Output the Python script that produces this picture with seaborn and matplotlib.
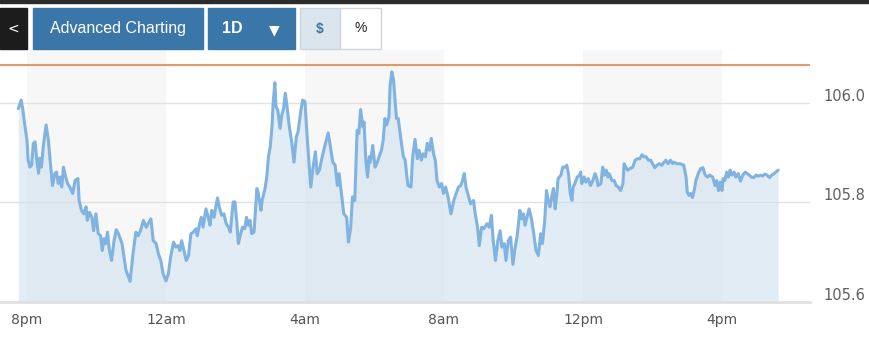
import numpy as np
import pandas as pd
import matplotlib
matplotlib.use("Agg")
import matplotlib.pyplot as plt
import matplotlib.transforms as mtransforms
from matplotlib.patches import Rectangle
import seaborn as sns

# minutes after 8pm
minutes = [
    -15, -10, -7, -5, -2, 0, 2, 5, 8, 11,
    14, 17, 20, 22, 25, 28, 33, 37, 41, 44,
    48, 51, 54, 57, 60, 63, 66, 70, 74, 79,
    83, 88, 90, 94, 98, 102, 104, 108, 112, 115,
    119, 123, 127, 130, 133, 136, 139, 142, 146, 150,
    154, 158, 164, 171, 178, 183, 188, 192, 196, 201,
    206, 209, 214, 218, 223, 227, 231, 235, 240, 244,
    248, 253, 257, 261, 264, 267, 271, 275, 279, 283,
    287, 292, 294, 298, 301, 304, 309, 313, 316, 319,
    323, 326, 329, 332, 336, 340, 344, 348, 351, 356,
    359, 362, 365, 369, 372, 376, 379, 382, 385, 388,
    392, 397, 399, 404, 406, 411, 414, 417, 420, 423,
    425, 428, 430, 433, 437, 440, 443, 446, 449, 453,
    457, 461, 465, 468, 473, 476, 480, 483, 487, 490,
    494, 498, 501, 505, 509, 513, 516, 520, 523, 528,
    532, 536, 539, 543, 547, 552, 555, 559, 562, 566,
    570, 573, 576, 580, 582, 585, 588, 591, 593, 597,
    601, 605, 608, 612, 615, 618, 621, 625, 627, 630,
    633, 635, 638, 641, 644, 647, 650, 653, 656, 658,
    663, 666, 670, 674, 677, 681, 684, 688, 691, 695,
    698, 702, 705, 708, 712, 716, 719, 723, 727, 732,
    737, 741, 745, 749, 752, 755, 758, 762, 766, 771,
    774, 778, 781, 785, 789, 794, 798, 802, 805, 809,
    813, 817, 820, 824, 827, 831, 835, 839, 843, 846,
    848, 851, 854, 857, 860, 864, 867, 871, 875, 879,
    883, 887, 890, 894, 897, 900, 903, 906, 909, 912,
    915, 917, 922, 925, 929, 932, 935, 938, 941, 943,
    946, 950, 954, 956, 958, 962, 965, 969, 973, 977,
    981, 984, 986, 991, 994, 997, 1000, 1003, 1005, 1010,
    1014, 1017, 1021, 1025, 1029, 1031, 1034, 1037, 1041, 1046,
    1050, 1054, 1058, 1062, 1065, 1069, 1073, 1077, 1080, 1084,
    1088, 1092, 1096, 1100, 1103, 1107, 1111, 1115, 1117, 1122,
    1126, 1130, 1134, 1138, 1140, 1143, 1146, 1149, 1152, 1155,
    1159, 1163, 1167, 1171, 1175, 1179, 1184, 1188, 1191, 1194,
    1197, 1200, 1202, 1205, 1208, 1211, 1214, 1217, 1221, 1224,
    1228, 1232, 1236, 1240, 1244, 1247, 1251, 1255, 1259, 1263,
    1267, 1270, 1274, 1278, 1282, 1286, 1290, 1293, 1297,
]

prices = [
    105.989, 106.006, 105.986, 105.966, 105.942, 105.925, 105.885, 105.871, 105.875, 105.919,
    105.922, 105.885, 105.859, 105.889, 105.871, 105.912, 105.956, 105.925, 105.871, 105.834,
    105.858, 105.861, 105.838, 105.851, 105.831, 105.871, 105.855, 105.838, 105.831, 105.818,
    105.844, 105.848, 105.804, 105.784, 105.777, 105.791, 105.764, 105.780, 105.770, 105.743,
    105.777, 105.737, 105.733, 105.703, 105.727, 105.717, 105.740, 105.706, 105.683, 105.720,
    105.745, 105.737, 105.717, 105.663, 105.641, 105.696, 105.740, 105.733, 105.743, 105.764,
    105.750, 105.757, 105.767, 105.723, 105.717, 105.696, 105.683, 105.656, 105.642, 105.656,
    105.690, 105.720, 105.710, 105.713, 105.703, 105.723, 105.703, 105.683, 105.693, 105.737,
    105.740, 105.747, 105.733, 105.757, 105.770, 105.750, 105.787, 105.770, 105.754, 105.784,
    105.770, 105.791, 105.809, 105.791, 105.774, 105.777, 105.757, 105.750, 105.740, 105.801,
    105.801, 105.764, 105.717, 105.737, 105.750, 105.747, 105.770, 105.754, 105.764, 105.737,
    105.740, 105.828, 105.821, 105.784, 105.804, 105.828, 105.851, 105.892, 105.912, 105.952,
    105.999, 106.041, 105.993, 105.986, 105.949, 105.976, 105.989, 106.020, 105.993, 105.952,
    105.922, 105.881, 105.932, 105.942, 105.986, 106.006, 106.003, 105.945, 105.878, 105.831,
    105.871, 105.902, 105.858, 105.865, 105.888, 105.908, 105.922, 105.940, 105.919, 105.881,
    105.875, 105.834, 105.858, 105.818, 105.777, 105.770, 105.720, 105.750, 105.811, 105.804,
    105.945, 105.939, 105.987, 105.952, 105.962, 105.885, 105.851, 105.892, 105.881, 105.915,
    105.871, 105.881, 105.892, 105.905, 105.925, 105.969, 105.956, 105.972, 106.036, 106.063,
    106.046, 106.013, 105.969, 105.969, 105.942, 105.915, 105.892, 105.885, 105.851, 105.834,
    105.831, 105.892, 105.927, 105.888, 105.905, 105.885, 105.898, 105.892, 105.919, 105.905,
    105.929, 105.898, 105.885, 105.844, 105.831, 105.838, 105.818, 105.831, 105.811, 105.777,
    105.804, 105.818, 105.831, 105.834, 105.844, 105.858, 105.831, 105.814, 105.797, 105.804,
    105.777, 105.750, 105.713, 105.750, 105.747, 105.757, 105.750, 105.774, 105.723, 105.683,
    105.723, 105.743, 105.710, 105.717, 105.683, 105.723, 105.730, 105.675, 105.710, 105.730,
    105.750, 105.784, 105.767, 105.777, 105.754, 105.774, 105.787, 105.767, 105.737, 105.703,
    105.693, 105.737, 105.717, 105.764, 105.824, 105.804, 105.791, 105.811, 105.828, 105.787,
    105.818, 105.848, 105.855, 105.871, 105.871, 105.875, 105.858, 105.818, 105.804, 105.831,
    105.838, 105.851, 105.855, 105.861, 105.838, 105.851, 105.841, 105.848, 105.834, 105.844,
    105.858, 105.848, 105.834, 105.838, 105.871, 105.855, 105.865, 105.851, 105.858, 105.844,
    105.844, 105.834, 105.831, 105.824, 105.838, 105.878, 105.871, 105.865, 105.868, 105.871,
    105.885, 105.888, 105.888, 105.896, 105.892, 105.892, 105.885, 105.885, 105.878, 105.870,
    105.875, 105.878, 105.875, 105.881, 105.885, 105.878, 105.885, 105.878, 105.881, 105.878,
    105.878, 105.877, 105.875, 105.851, 105.821, 105.814, 105.818, 105.810, 105.824, 105.844,
    105.858, 105.868, 105.870, 105.855, 105.851, 105.855, 105.851, 105.834, 105.844, 105.824,
    105.841, 105.824, 105.848, 105.844, 105.861, 105.851, 105.865, 105.855, 105.861, 105.851,
    105.858, 105.843, 105.855, 105.861, 105.858, 105.855, 105.851, 105.850, 105.855, 105.853,
    105.855, 105.853, 105.857, 105.855, 105.850, 105.855, 105.858, 105.861, 105.865,
]

prev_close = 106.076
tick_minutes = [0, 240, 480, 720, 960, 1200]
tick_labels = ["8pm", "12am", "4am", "8am", "12pm", "4pm"]
y_ticks = [105.6, 105.8, 106.0]
y_labels = ["105.6", "105.8", "106.0"]
shaded = [(0, 240), (480, 720), (960, 1200)]

df = pd.DataFrame({"minute": minutes, "price": prices})

sns.set_style("white")
plt.rcParams["font.family"] = ["Liberation Sans Narrow", "DejaVu Sans"]

W, H = 870, 352
fig = plt.figure(figsize=(W / 100, H / 100), dpi=100)
ax = fig.add_axes([0, 1 - 301.7 / H, 810 / W, (301.7 - 50) / H])

for a, b in shaded:
    ax.axvspan(a, b, color="#f7f7f7", lw=0, zorder=0)
for v in y_ticks:
    ax.axhline(v, color="#e2e2e2", lw=1, zorder=1)

ax.fill_between(df["minute"], df["price"], 105.6, color="#cfe0ee", alpha=0.6, lw=0, zorder=2)
sns.lineplot(data=df, x="minute", y="price", ax=ax, color="#80b3e0", lw=2.2,
             sort=False, estimator=None, zorder=3)
ax.axhline(prev_close, color="#e39a6b", lw=1.5, zorder=4)

ax.set_xlim(-46.6, 1352)
ax.set_ylim(105.6, 106.107)
ax.set_xlabel("")
ax.set_ylabel("")

ax.set_xticks(tick_minutes)
ax.set_xticklabels(tick_labels)
ax.tick_params(axis="x", length=5, width=1, color="#d0d0d0", labelsize=10,
               labelcolor="#555555", pad=3)

ax.yaxis.tick_right()
ax.set_yticks(y_ticks)
ax.set_yticklabels(y_labels)
ax.tick_params(axis="y", length=0, labelsize=10.5, labelcolor="#606060", pad=10)
shift = mtransforms.ScaledTranslation(0, 8 / 100, fig.dpi_scale_trans)
for lbl in ax.get_yticklabels():
    lbl.set_transform(lbl.get_transform() + shift)

for s in ["top", "left", "right"]:
    ax.spines[s].set_visible(False)
ax.spines["bottom"].set_color("#e0e0e0")
ax.spines["bottom"].set_linewidth(2)


# toolbar on top
def box(x0, y0, x1, y1, fc, ec=None):
    fig.add_artist(Rectangle((x0 / W, 1 - y1 / H), (x1 - x0) / W, (y1 - y0) / H,
                             transform=fig.transFigure, fc=fc,
                             ec=ec if ec else fc, lw=1, zorder=10))


def label(x, y, s, **kw):
    fig.text(x / W, 1 - y / H, s, ha="center", va="center", zorder=11, **kw)


box(0, 0, W, 2.5, "#2b2b2b")
box(0, 8, 27, 49, "#1c1c1c")
label(13.5, 28.5, "<", color="white", fontsize=10, family="DejaVu Sans")
box(33, 8, 203, 49, "#3a77a8")
label(118, 28.5, "Advanced Charting", color="white", fontsize=11.5, family="Liberation Sans")
box(208, 8, 295, 49, "#3a77a8")
label(232, 28.5, "1D", color="white", fontsize=11.5, fontweight="bold", family="Liberation Sans")
label(274, 30, "\u25bc", color="white", fontsize=10, family="DejaVu Sans")
box(300, 8, 340, 49, "#dbe5ee", "#c9d5e0")
label(320, 28.5, "$", color="#3a77a8", fontsize=10, fontweight="bold", family="Liberation Sans")
box(340, 8, 381, 49, "white", "#d5d5d5")
label(360.5, 28.5, "%", color="#222222", fontsize=10, family="Liberation Sans")

fig.savefig("out.png", dpi=100, facecolor="white")
